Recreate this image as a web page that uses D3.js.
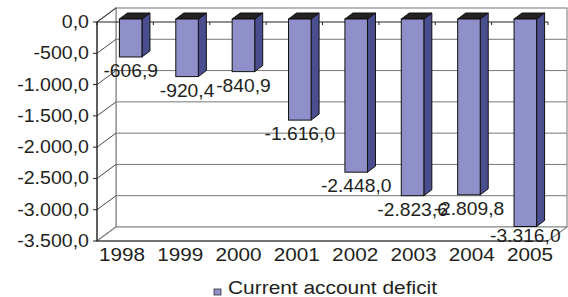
<!DOCTYPE html>
<html><head><meta charset="utf-8">
<script src="https://cdn.jsdelivr.net/npm/d3@7"></script>
<style>html,body{margin:0;padding:0;background:#fff;}svg{display:block;font-family:"Liberation Sans",Arial,sans-serif;}</style>
</head><body><svg id="c" width="568" height="297"></svg>
<script>
const years = ["1998","1999","2000","2001","2002","2003","2004","2005"];
const deficit = [-606.9,-920.4,-840.9,-1616.0,-2448.0,-2823.6,-2809.8,-3316.0];
const yTicks = [0,-500,-1000,-1500,-2000,-2500,-3000,-3500];
const seriesName = "Current account deficit";

(function(){
const loc = d3.formatLocale({decimal:",",thousands:".",grouping:[3],currency:["",""],minus:"-"});
const fmt = loc.format(",.1f");

const svg = d3.select("#c");
const W=568,H=297;
svg.append("rect").attr("width",W).attr("height",H).attr("fill","#fff");

// front plane geometry
const pL=97, pR=548, pT=22, pB=241;
const DX=19, DY=-14;           // wall depth offset
const FDX=5.5, FDY=-3;         // bar front offset
const BDX=8, BDY=-6;           // bar depth

const y = d3.scaleLinear().domain([-3500,0]).range([pB,pT]);
const x = d3.scaleBand().domain(years).range([pL,pR]).paddingInner(0.6).paddingOuter(0.3);
const xLab = d3.scalePoint().domain(years).range([122,530]);
const bw = x.bandwidth();
const step = x.step();

const wallStroke="#8a8a8a";
// back wall
svg.append("rect").attr("x",pL+DX).attr("y",pT+DY).attr("width",(pR+DX)-(pL+DX)).attr("height",pB-pT)
  .attr("fill","#fff").attr("stroke",wallStroke).attr("stroke-width",1.2);
// back gridlines
svg.selectAll(".bg").data(yTicks.slice(1,-1)).join("line")
  .attr("x1",pL+DX).attr("x2",pR+DX).attr("y1",d=>y(d)+DY).attr("y2",d=>y(d)+DY)
  .attr("stroke","#777").attr("stroke-width",1);
// left wall
svg.append("polygon").attr("points",[[pL,pT],[pL+DX,pT+DY],[pL+DX,pB+DY],[pL,pB]].join(" "))
  .attr("fill","#fff").attr("stroke",wallStroke).attr("stroke-width",1.2);
svg.selectAll(".dg").data(yTicks).join("line")
  .attr("x1",pL).attr("x2",pL+DX).attr("y1",d=>y(d)).attr("y2",d=>y(d)+DY)
  .attr("stroke","#333").attr("stroke-width",0.9);
// floor
svg.append("polygon").attr("points",[[pL,pB],[pR,pB],[pR+DX,pB+DY],[pL+DX,pB+DY]].join(" "))
  .attr("fill","#fff").attr("stroke",wallStroke).attr("stroke-width",1.2);
svg.append("line").attr("x1",pL).attr("x2",pR).attr("y1",pB).attr("y2",pB).attr("stroke","#222").attr("stroke-width",1.2);

// zero line with category ticks
svg.append("line").attr("x1",pL).attr("x2",pR).attr("y1",y(0)).attr("y2",y(0)).attr("stroke","#222").attr("stroke-width",1.2);
svg.selectAll(".ct").data(d3.range(years.length+1)).join("line")
  .attr("x1",i=>pL+i*step).attr("x2",i=>pL+i*step).attr("y1",y(0)).attr("y2",y(0)+3)
  .attr("stroke","#222").attr("stroke-width",1);

// y axis
svg.append("line").attr("x1",pL).attr("x2",pL).attr("y1",pT).attr("y2",pB).attr("stroke","#222").attr("stroke-width",1.2);
svg.selectAll(".yt").data(yTicks).join("line")
  .attr("x1",pL-4).attr("x2",pL).attr("y1",d=>y(d)).attr("y2",d=>y(d)).attr("stroke","#222");
svg.selectAll(".yl").data(yTicks).join("text")
  .attr("transform",d=>`translate(89,${y(d)+6}) scale(1.12,1)`)
  .attr("text-anchor","end").attr("font-size",17.5).attr("fill","#231f20").text(d=>fmt(d));

// bars
const data = years.map((yr,i)=>({yr,v:deficit[i]}));
const g = svg.append("g");
data.forEach(d=>{
  const x0=x(d.yr)+FDX, x1=x0+bw, yT=y(0)+FDY, yB=y(d.v)+FDY;
  g.append("polygon").attr("points",[[x1,yT],[x1+BDX,yT+BDY],[x1+BDX,yB+BDY],[x1,yB]].join(" "))
    .attr("fill","#4a4e8e").attr("stroke","#111").attr("stroke-width",1);
  g.append("polygon").attr("points",[[x0,yT],[x0+BDX,yT+BDY],[x1+BDX,yT+BDY],[x1,yT]].join(" "))
    .attr("fill","#262224").attr("stroke","#111").attr("stroke-width",1);
  g.append("rect").attr("x",x0).attr("y",yT).attr("width",bw).attr("height",yB-yT)
    .attr("fill","#8f8fc9").attr("stroke","#111").attr("stroke-width",1);
});

// data labels
svg.selectAll(".dl").data(data).join("text")
  .attr("transform",d=>`translate(${x(d.yr)+FDX+bw/2},${Math.min(y(d.v)+FDY+20,242)}) scale(1.1,1)`)
  .attr("text-anchor","middle").attr("font-size",17.5).attr("fill","#231f20").text(d=>fmt(d.v));

// category labels
svg.selectAll(".xl").data(years).join("text")
  .attr("transform",d=>`translate(${xLab(d)},261) scale(1.12,1)`)
  .attr("text-anchor","middle").attr("font-size",18.5).attr("fill","#231f20").text(d=>d);

// legend
svg.append("rect").attr("x",214).attr("y",289).attr("width",7).attr("height",6)
  .attr("fill","#8f8fc9").attr("stroke","#333").attr("stroke-width",0.8);
svg.append("text").attr("transform","translate(228,294) scale(1.1,1)")
  .attr("font-size",19).attr("fill","#231f20").text(seriesName);
})();
</script></body></html>
